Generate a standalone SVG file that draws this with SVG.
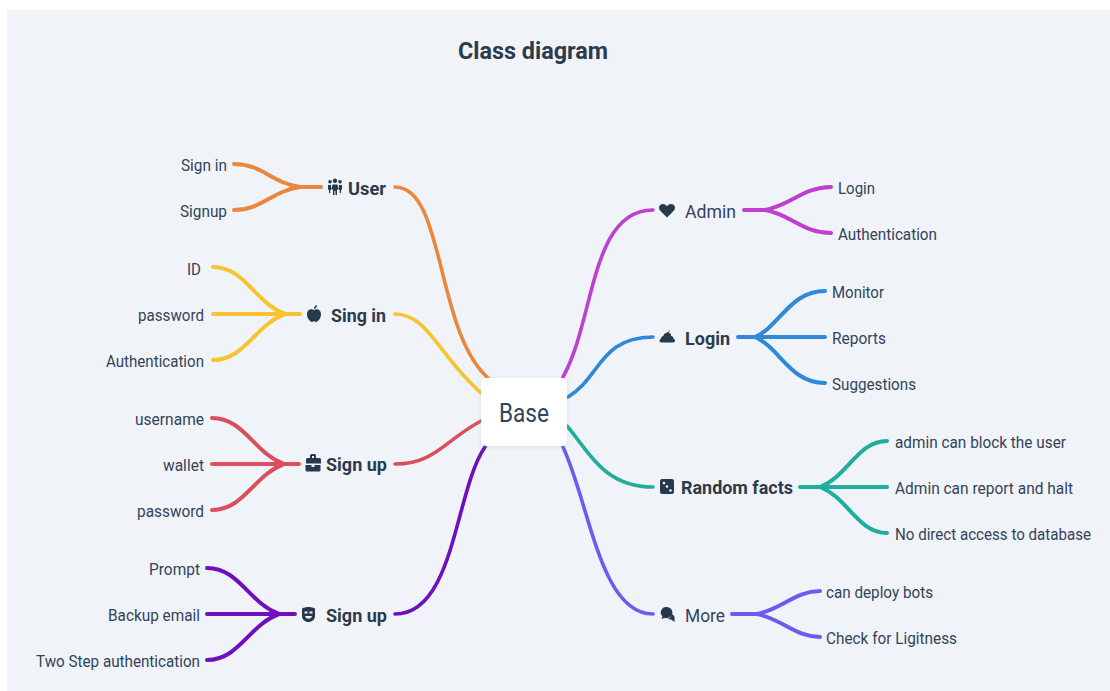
<svg xmlns="http://www.w3.org/2000/svg" width="1110" height="691" viewBox="0 0 1110 691">
<defs>
<filter id="sh" x="-30%" y="-30%" width="160%" height="160%"><feDropShadow dx="0" dy="1" stdDeviation="2.5" flood-color="#8a9bb0" flood-opacity="0.25"/></filter>
</defs>
<style>
text{font-family:"Roboto","Liberation Sans",sans-serif;fill:#33435a}
.t{font-size:16.5px}
.b{font-size:19px;font-weight:700;fill:#2c3a4c}
.r{font-size:19px;fill:#33435a}
.i{fill:#26394d}
#connectors path{fill:none;stroke-width:3.6;stroke-linecap:round}
#connectors path.l{stroke-width:4}
.or{stroke:#e8873d}.ye{stroke:#f7c32e}.re{stroke:#d94f60}.pu{stroke:#6f0fbf}.ma{stroke:#bf3fd0}.bl{stroke:#2f88d8}.te{stroke:#1fae9c}.vi{stroke:#6b5cf0}
</style>
<rect width="1110" height="691" fill="#ffffff"/>
<rect x="7" y="10" width="1103" height="681" fill="#f0f4f8"/>
<text id="title" x="458" y="59" font-size="24" font-weight="700" textLength="150" lengthAdjust="spacingAndGlyphs" style="fill:#2c3a4c">Class diagram</text>
<g id="connectors">
<path class="or" d="M395 187C445 187 435 330 488 378"/>
<path class="or l" d="M234 164C262 164 272 183 300 187H321M234 210C262 210 272 191 300 187"/>
<path class="ye" d="M395 314C428 314 438 355 481 393"/>
<path class="ye l" d="M213 267C245 267 255 303 285 314H300M213 314H285M213 360C245 360 255 325 285 314"/>
<path class="re" d="M395 464C435 464 445 440 481 421"/>
<path class="re l" d="M212 418C244 418 254 453 284 464H299M212 464H284M212 510C244 510 254 475 284 464"/>
<path class="pu" d="M395 614C455 614 455 490 485 447"/>
<path class="pu l" d="M207 568C239 568 249 603 279 614H295M207 614H279M207 660C239 660 249 625 279 614"/>
<path class="ma" d="M563 377C595 320 590 210 653 210"/>
<path class="ma l" d="M744 210H765C790 206 803 187 831 187M765 210C790 214 803 233 831 233"/>
<path class="bl" d="M568 397C600 378 600 337 653 337"/>
<path class="bl l" d="M738 337H755C780 326 790 291 825 291M755 337H825M755 337C780 348 790 383 825 383"/>
<path class="te" d="M567 426C588 450 603 487 653 487"/>
<path class="te l" d="M800 487H820C848 476 858 441 887 441M820 487H887M820 487C848 498 858 533 887 533"/>
<path class="vi" d="M563 447C590 505 600 614 653 614"/>
<path class="vi l" d="M732 614H757C782 609 795 591 820 591M757 614C782 619 795 637 820 637"/>
</g>
<g id="base"><rect x="481" y="378" width="86" height="68" rx="5" fill="#fff" filter="url(#sh)"/><text x="499" y="422" font-size="25" textLength="50" lengthAdjust="spacingAndGlyphs">Base</text></g>
<g id="user"><path class="i" d="M335 183a2.200 2.200 0 1 1 .01 0zM330 183.500a1.800 1.800 0 1 1 .01 0zM340 183.500a1.800 1.800 0 1 1 .01 0zM332.500 184.500h5l1 4.500-1.500 1v5h-1.500v-4h-.5h-.5v4h-1.500v-5l-1.500-1zM328 185h3l.3 4.500-1 .8v2.700h-1.300v-3l-1-.5zM339 185h3l0 4.500-1 .5v3h-1.300v-2.700l-1-.8z"/><text class="b" x="348" y="195" textLength="38" lengthAdjust="spacingAndGlyphs">User</text></g>
<g id="singin"><path class="i" d="M314 310c2-1.500 7-1.500 7 4.500 0 3.500-3 7.500-5 7.500-1 0-1.500-.7-2-.7s-1 .7-2 .7c-2 0-5-4-5-7.500 0-6 5-6 7-4.500zM314 309c0-2 1-3.500 3-4 0 2-1 3.500-3 4z"/><text class="b" x="331" y="322" textLength="55" lengthAdjust="spacingAndGlyphs">Sing in</text></g>
<g id="signup1"><path class="i" d="M310 458v-2.500a1.500 1.500 0 0 1 1.500-1.500h3a1.500 1.500 0 0 1 1.500 1.500v2.500h3.500a1.500 1.500 0 0 1 1.500 1.500v4h-15v-4a1.500 1.500 0 0 1 1.500-1.500zM312 456v2h2v-2zM305.500 465h6v2h3v-2h6v5a1.500 1.500 0 0 1-1.500 1.500h-12a1.500 1.500 0 0 1-1.500-1.500z"/><text class="b" x="326" y="471" textLength="61" lengthAdjust="spacingAndGlyphs">Sign up</text></g>
<g id="signup2"><path class="i" fill-rule="evenodd" d="M302 608.500c4-2 9-2 13 0v7.500c0 3.500-3 6-6.500 6s-6.500-2.500-6.500-6zM304.500 611.500v2h3v-2zM309.500 611.500v2h3v-2zM305 616c1 3.500 6 3.500 7 0z"/><text class="b" x="326" y="622" textLength="61" lengthAdjust="spacingAndGlyphs">Sign up</text></g>
<g id="admin"><path class="i" d="M667 217.500l-6.500-6.500c-2-2-2-5 0-6.300 2-1.300 4.800-.7 6.500 1.500 1.700-2.200 4.500-2.800 6.500-1.500 2 1.300 2 4.300 0 6.300z"/><text class="r" x="685" y="218" textLength="51" lengthAdjust="spacingAndGlyphs">Admin</text></g>
<g id="login"><path class="i" d="M669.500 330c.5 1.500-.5 2.500-1 3 2 0 3 1.500 2.500 3 1.500.2 2.500 1.300 2.500 2.500 1 .5 1.500 1.300 1.500 2.300 0 1-.8 1.700-2 1.700h-11.500c-1.200 0-2-.7-2-1.700 0-1 .5-1.800 1.500-2.300 0-1.200 1-2.300 2.500-2.500-.3-1.500 1-2.500 2.500-3 1.500-.5 3-1.500 3.500-3z"/><text class="b" x="685" y="345" textLength="45" lengthAdjust="spacingAndGlyphs">Login</text></g>
<g id="random"><rect class="i" x="660" y="479" width="14" height="15" rx="2"/><circle cx="664" cy="483" r="1.300" fill="#f0f4f8"/><circle cx="667" cy="486.500" r="1.300" fill="#f0f4f8"/><circle cx="670.500" cy="490.500" r="1.300" fill="#f0f4f8"/><text class="b" x="681" y="494" textLength="112" lengthAdjust="spacingAndGlyphs">Random facts</text></g>
<g id="more"><path class="i" d="M666.500 607a6 5.500 0 0 1 4 9.500c-1.500 1.300-4 2-6 1.500l-3 1 1-2.500a5.500 5.500 0 0 1 4-9.500zM672 614c1 1 2 1.500 2.500 3v5l-3.500-2.500-3.500-.5c2-.5 4-2.500 4.500-5z"/><text class="r" x="685" y="622" textLength="40" lengthAdjust="spacingAndGlyphs">More</text></g>
<g id="leaf-sign-in"><text class="t" x="181" y="171" textLength="46" lengthAdjust="spacingAndGlyphs">Sign in</text></g>
<g id="leaf-signup"><text class="t" x="180" y="217" textLength="47" lengthAdjust="spacingAndGlyphs">Signup</text></g>
<g id="leaf-id"><text class="t" x="187" y="275" textLength="14" lengthAdjust="spacingAndGlyphs">ID</text></g>
<g id="leaf-password1"><text class="t" x="138" y="321" textLength="66" lengthAdjust="spacingAndGlyphs">password</text></g>
<g id="leaf-auth1"><text class="t" x="106" y="367" textLength="98" lengthAdjust="spacingAndGlyphs">Authentication</text></g>
<g id="leaf-username"><text class="t" x="135" y="425" textLength="69" lengthAdjust="spacingAndGlyphs">username</text></g>
<g id="leaf-wallet"><text class="t" x="163" y="471" textLength="41" lengthAdjust="spacingAndGlyphs">wallet</text></g>
<g id="leaf-password2"><text class="t" x="137" y="517" textLength="67" lengthAdjust="spacingAndGlyphs">password</text></g>
<g id="leaf-prompt"><text class="t" x="149" y="575" textLength="51" lengthAdjust="spacingAndGlyphs">Prompt</text></g>
<g id="leaf-backup"><text class="t" x="108" y="621" textLength="92" lengthAdjust="spacingAndGlyphs">Backup email</text></g>
<g id="leaf-twostep"><text class="t" x="36" y="667" textLength="164" lengthAdjust="spacingAndGlyphs">Two Step authentication</text></g>
<g id="leaf-login"><text class="t" x="838" y="194" textLength="37" lengthAdjust="spacingAndGlyphs">Login</text></g>
<g id="leaf-auth2"><text class="t" x="838" y="240" textLength="99" lengthAdjust="spacingAndGlyphs">Authentication</text></g>
<g id="leaf-monitor"><text class="t" x="832" y="298" textLength="52" lengthAdjust="spacingAndGlyphs">Monitor</text></g>
<g id="leaf-reports"><text class="t" x="832" y="344" textLength="54" lengthAdjust="spacingAndGlyphs">Reports</text></g>
<g id="leaf-suggestions"><text class="t" x="832" y="390" textLength="84" lengthAdjust="spacingAndGlyphs">Suggestions</text></g>
<g id="leaf-block"><text class="t" x="895" y="448" textLength="171" lengthAdjust="spacingAndGlyphs">admin can block the user</text></g>
<g id="leaf-report"><text class="t" x="895" y="494" textLength="178" lengthAdjust="spacingAndGlyphs">Admin can report and halt</text></g>
<g id="leaf-noaccess"><text class="t" x="895" y="540" textLength="196" lengthAdjust="spacingAndGlyphs">No direct access to database</text></g>
<g id="leaf-bots"><text class="t" x="826" y="598" textLength="107" lengthAdjust="spacingAndGlyphs">can deploy bots</text></g>
<g id="leaf-ligitness"><text class="t" x="826" y="644" textLength="131" lengthAdjust="spacingAndGlyphs">Check for Ligitness</text></g>
</svg>
